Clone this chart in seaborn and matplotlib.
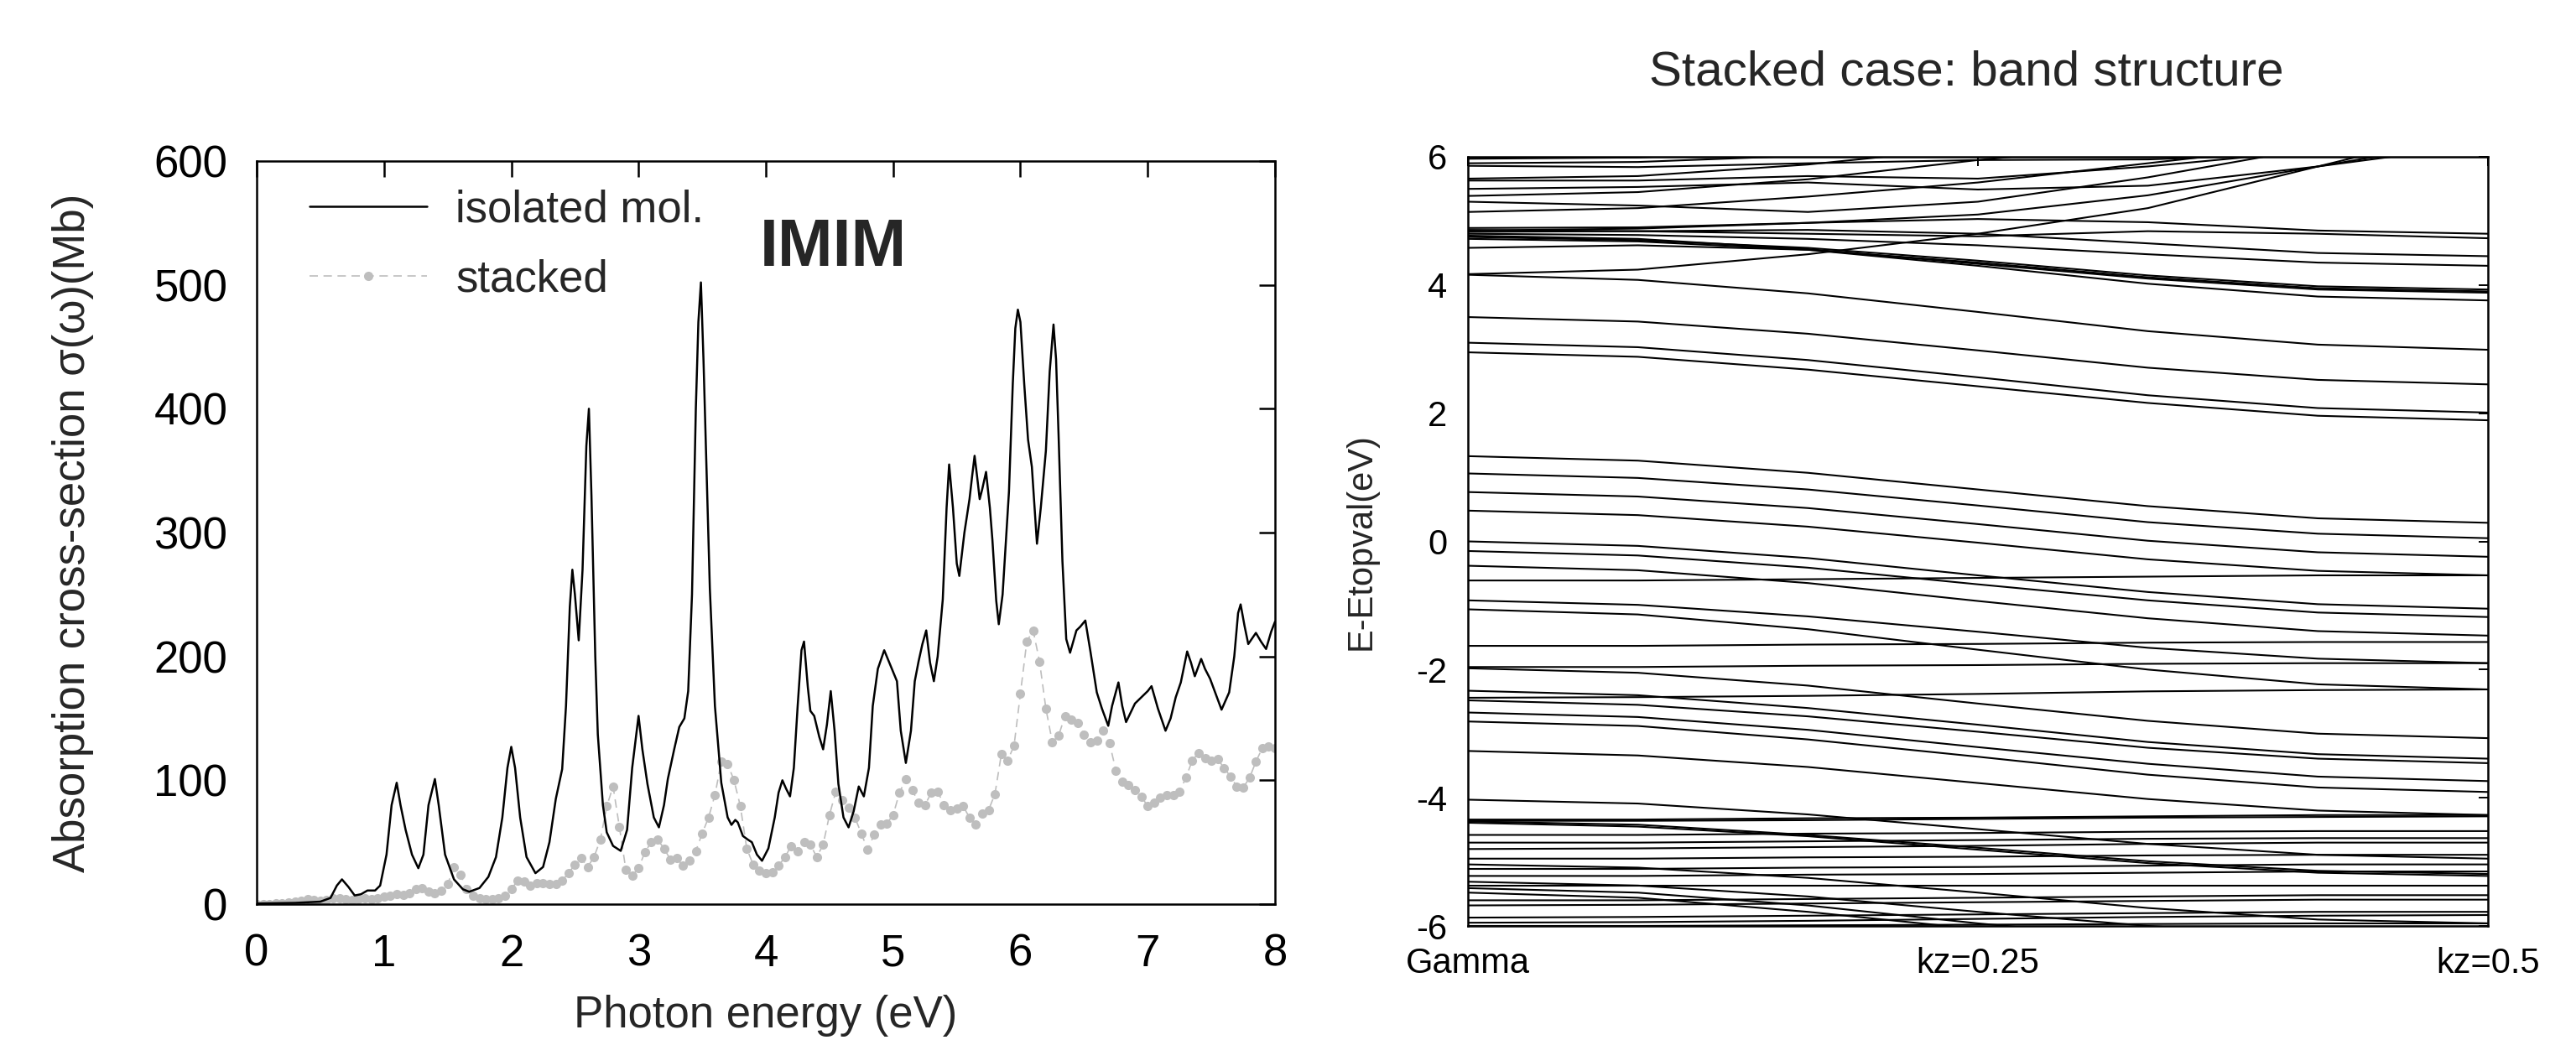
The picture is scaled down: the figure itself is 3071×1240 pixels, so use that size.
import numpy as np
import pandas as pd
import matplotlib
matplotlib.use("Agg")
import matplotlib.pyplot as plt
import seaborn as sns

sns.set_style("white")
plt.rcParams["font.family"] = ["Liberation Sans", "DejaVu Sans"]
plt.rcParams["axes.unicode_minus"] = False

# ---------------- Left panel data: absorption cross-section ----------------
iso_energy = [0.00, 0.30, 0.50, 0.58, 0.63, 0.67, 0.72, 0.77, 0.82, 0.87, 0.93, 0.97,
              1.02, 1.06, 1.10, 1.13, 1.17, 1.22, 1.27, 1.31, 1.35, 1.40, 1.43, 1.48,
              1.55, 1.62, 1.67, 1.75, 1.82, 1.88, 1.93, 1.97, 2.00, 2.03, 2.07, 2.12,
              2.19, 2.25, 2.30, 2.35, 2.40, 2.43, 2.46, 2.48, 2.50, 2.53, 2.56, 2.59,
              2.61, 2.63, 2.66, 2.68, 2.72, 2.75, 2.80, 2.86, 2.91, 2.95, 3.00, 3.03,
              3.07, 3.12, 3.16, 3.20, 3.23, 3.28, 3.32, 3.36, 3.39, 3.42, 3.45, 3.47,
              3.49, 3.51, 3.54, 3.56, 3.60, 3.65, 3.70, 3.73, 3.76, 3.78, 3.82, 3.86,
              3.89, 3.93, 3.97, 4.02, 4.07, 4.10, 4.13, 4.16, 4.19, 4.22, 4.25, 4.28,
              4.30, 4.33, 4.35, 4.38, 4.42, 4.45, 4.48, 4.51, 4.54, 4.57, 4.61, 4.65,
              4.69, 4.73, 4.77, 4.81, 4.84, 4.88, 4.93, 4.97, 5.01, 5.03, 5.06, 5.10,
              5.14, 5.17, 5.20, 5.23, 5.26, 5.29, 5.32, 5.35, 5.39, 5.42, 5.44, 5.47,
              5.50, 5.52, 5.56, 5.60, 5.62, 5.64, 5.66, 5.68, 5.70, 5.73, 5.76, 5.78,
              5.81, 5.83, 5.86, 5.91, 5.94, 5.96, 5.98, 6.00, 6.03, 6.06, 6.09, 6.13,
              6.16, 6.20, 6.23, 6.26, 6.28, 6.30, 6.33, 6.36, 6.39, 6.44, 6.47, 6.51,
              6.55, 6.60, 6.64, 6.69, 6.72, 6.77, 6.80, 6.83, 6.90, 6.97, 7.00, 7.03,
              7.08, 7.14, 7.18, 7.22, 7.26, 7.31, 7.34, 7.37, 7.42, 7.45, 7.49, 7.54,
              7.58, 7.64, 7.68, 7.71, 7.73, 7.76, 7.79, 7.85, 7.89, 7.93, 7.97, 8.00]
iso_sigma = [0.5, 1, 2, 5, 15, 20, 14, 7, 8, 11, 11, 15,
             40, 80, 98, 80, 60, 40, 29, 40, 80, 101, 80, 40,
             20, 12, 10, 13, 22, 38, 70, 110, 127, 110, 70, 38,
             25, 30, 50, 85, 109, 160, 240, 270, 250, 213, 270, 370,
             400, 330, 200, 137, 80, 58, 47, 43, 60, 110, 152, 125,
             97, 70, 62, 80, 101, 125, 143, 150, 172, 250, 400, 470,
             502, 440, 330, 255, 160, 98, 70, 64, 68, 66, 55, 52,
             50, 40, 35, 45, 70, 90, 100, 93, 87, 110, 160, 205,
             212, 175, 156, 152, 135, 125, 145, 172, 140, 97, 70, 62,
             75, 95, 87, 110, 160, 190, 205, 195, 185, 180, 140, 114,
             140, 180, 196, 210, 221, 195, 180, 200, 246, 320, 355, 320,
             275, 265, 300, 327, 345, 362, 345, 327, 335, 349, 320, 294,
             245, 226, 250, 333, 420, 465, 480, 470, 420, 375, 353, 291,
             320, 366, 430, 468, 440, 378, 277, 214, 203, 221, 224, 229,
             204, 171, 158, 144, 160, 179, 160, 147, 162, 169, 172, 176,
             158, 140, 150, 167, 179, 204, 195, 184, 198, 190, 182, 168,
             157, 171, 200, 235, 242, 225, 210, 219, 212, 206, 220, 228]

stk_energy = np.round(np.arange(161) * 0.05, 2)
stk_sigma = [0, 0, 0, 0.5, 1, 1.5, 2, 3, 4, 3.5,
             3, 3.5, 4.5, 5, 4, 3.5, 4, 4.5, 4, 5,
             6, 7, 8, 7.5, 9, 12, 13, 10, 9, 11,
             16, 30, 24, 12, 7, 5, 4, 4, 5, 7,
             12, 19, 18, 15, 17, 17, 16, 16, 19, 25,
             32, 37, 30, 38, 52, 79, 95, 62, 28, 23,
             29, 42, 50, 52, 45, 36, 37, 31, 35, 43,
             57, 70, 88, 115, 113, 100, 79, 45, 32, 27,
             25, 26, 31, 38, 47, 43, 50, 48, 38, 48,
             72, 91, 84, 78, 70, 57, 44, 56, 64, 65,
             72, 90, 101, 92, 82, 80, 90, 91, 80, 76,
             77, 79, 70, 64, 73, 76, 89, 121, 116, 128,
             170, 212, 221, 196, 158, 131, 136, 152, 149, 146,
             137, 131, 132, 140, 130, 108, 99, 96, 92, 87,
             79, 82, 86, 88, 88, 91, 102, 116, 122, 118,
             116, 117, 110, 103, 95, 94, 102, 115, 126, 127,
             126]

# ---------------- Right panel data: band structure ----------------
band_k = [0.0, 1/12, 1/6, 0.25, 1/3, 5/12, 0.5]
kpath_ticks = [0.0, 0.25, 0.5]
kpath_labels = ["Gamma", "kz=0.25", "kz=0.5"]

bands_upper = [
    [5.97, 5.99, 6.10, 6.30, 6.40, 6.40, 6.40],
    [5.90, 5.92, 6.02, 6.20, 6.30, 6.30, 6.30],
    [5.86, 5.84, 5.90, 5.95, 5.96, 6.05, 6.20],
    [5.66, 5.70, 5.88, 6.15, 6.40, 6.50, 6.50],
    [5.63, 5.63, 5.70, 5.66, 5.85, 6.10, 6.30],
    [5.50, 5.53, 5.60, 5.49, 5.55, 5.85, 6.20],
    [5.39, 5.45, 5.65, 5.95, 6.20, 6.30, 6.30],
    [5.30, 5.24, 5.14, 5.30, 5.68, 6.15, 6.50],
    [5.14, 5.20, 5.38, 5.60, 5.90, 6.20, 6.50],
    [4.89, 4.90, 4.97, 5.03, 4.98, 4.85, 4.80],
    [4.86, 4.84, 4.80, 4.76, 4.84, 4.80, 4.73],
    [4.83, 4.84, 4.86, 4.80, 4.65, 4.50, 4.45],
    [4.80, 4.78, 4.72, 4.62, 4.48, 4.35, 4.30],
    [4.75, 4.70, 4.58, 4.38, 4.15, 3.98, 3.93],
    [4.72, 4.68, 4.55, 4.35, 4.12, 3.95, 3.90],
    [4.77, 4.72, 4.56, 4.33, 4.10, 3.93, 3.88],
    [4.58, 4.62, 4.55, 4.30, 4.02, 3.82, 3.76],
    [4.17, 4.24, 4.48, 4.80, 5.20, 5.85, 6.50],
    [4.85, 4.88, 4.97, 5.10, 5.40, 5.85, 6.30],
]
bands_conduction = [
    [4.16, 4.08, 3.87, 3.58, 3.28, 3.07, 2.99],
    [3.50, 3.43, 3.24, 2.98, 2.71, 2.52, 2.45],
    [3.10, 3.03, 2.83, 2.56, 2.28, 2.08, 2.01],
    [2.95, 2.88, 2.68, 2.42, 2.16, 1.96, 1.89],
]
bands_valence = [
    [1.33, 1.26, 1.07, 0.81, 0.55, 0.36, 0.29],
    [1.06, 0.99, 0.81, 0.56, 0.30, 0.12, 0.05],
    [0.77, 0.70, 0.52, 0.27, 0.01, -0.17, -0.24],
    [0.48, 0.41, 0.23, -0.02, -0.28, -0.46, -0.53],
    [0.00, -0.07, -0.26, -0.53, -0.79, -0.98, -1.05],
    [-0.15, -0.22, -0.41, -0.67, -0.92, -1.11, -1.18],
    [-0.38, -0.45, -0.65, -0.93, -1.20, -1.40, -1.47],
    [-0.61, -0.61, -0.59, -0.57, -0.55, -0.53, -0.53],
    [-0.92, -0.99, -1.17, -1.41, -1.66, -1.83, -1.90],
    [-1.06, -1.14, -1.37, -1.69, -2.00, -2.23, -2.31],
    [-1.63, -1.63, -1.61, -1.60, -1.58, -1.57, -1.57],
    [-1.96, -1.96, -1.94, -1.93, -1.91, -1.90, -1.90],
    [-1.98, -2.05, -2.25, -2.53, -2.80, -3.00, -3.07],
    [-2.44, -2.43, -2.41, -2.38, -2.34, -2.32, -2.31],
    [-2.33, -2.40, -2.60, -2.86, -3.13, -3.32, -3.39],
    [-2.48, -2.55, -2.73, -2.97, -3.22, -3.39, -3.46],
    [-2.67, -2.74, -2.94, -3.21, -3.47, -3.67, -3.74],
    [-2.81, -2.88, -3.09, -3.36, -3.64, -3.84, -3.91],
    [-3.27, -3.34, -3.52, -3.77, -4.02, -4.20, -4.27],
]
bands_deep = [
    [-4.03, -4.09, -4.26, -4.49, -4.72, -4.89, -4.95],
    [-4.34, -4.34, -4.32, -4.31, -4.29, -4.27, -4.27],
    [-4.36, -4.36, -4.35, -4.33, -4.31, -4.30, -4.29],
    [-4.37, -4.42, -4.58, -4.78, -4.99, -5.14, -5.19],
    [-4.39, -4.45, -4.60, -4.81, -5.02, -5.17, -5.22],
    [-4.58, -4.58, -4.56, -4.55, -4.53, -4.52, -4.52],
    [-4.70, -4.70, -4.68, -4.66, -4.64, -4.63, -4.63],
    [-4.80, -4.79, -4.77, -4.75, -4.72, -4.70, -4.70],
    [-4.95, -4.95, -4.93, -4.92, -4.90, -4.89, -4.89],
    [-5.11, -5.11, -5.09, -5.08, -5.06, -5.04, -5.04],
    [-5.22, -5.22, -5.20, -5.19, -5.17, -5.15, -5.15],
    [-5.37, -5.37, -5.37, -5.37, -5.37, -5.37, -5.37],
    [-5.60, -5.60, -5.58, -5.56, -5.54, -5.52, -5.52],
    [-5.68, -5.67, -5.65, -5.63, -5.61, -5.59, -5.59],
    [-5.87, -5.86, -5.84, -5.82, -5.80, -5.78, -5.78],
    [-5.95, -5.94, -5.92, -5.89, -5.86, -5.84, -5.83],
    [-6.00, -6.00, -5.99, -5.98, -5.97, -5.96, -5.96],
    [-5.04, -5.09, -5.25, -5.48, -5.72, -5.90, -5.96],
    [-5.31, -5.37, -5.54, -5.78, -6.00, -6.15, -6.20],
    [-5.41, -5.48, -5.68, -5.96, -6.20, -6.30, -6.30],
    [-5.48, -5.56, -5.78, -6.05, -6.30, -6.40, -6.40],
]

all_bands = bands_upper + bands_conduction + bands_valence + bands_deep
rows = []
for b, vals in enumerate(all_bands):
    for k, e in zip(band_k, vals):
        rows.append({"band": b, "k": k, "E": e})
band_df = pd.DataFrame(rows)

# ---------------- Figure ----------------
W, H = 3071, 1240
fig = plt.figure(figsize=(W / 100, H / 100), dpi=100)

ax1 = fig.add_axes([306 / W, 1 - 1078 / H, (1520 - 306) / W, (1078 - 192) / H])
ax2 = fig.add_axes([1750 / W, 1 - 1104 / H, (2966 - 1750) / W, (1104 - 187) / H])

gray = "#bebebe"
sns.lineplot(x=stk_energy, y=stk_sigma, ax=ax1, color=gray, lw=1.2,
             linestyle=(0, (6, 4)), marker="o", markersize=8,
             markeredgewidth=0, markerfacecolor=gray, label="stacked", zorder=2)
sns.lineplot(x=iso_energy, y=iso_sigma, ax=ax1, color="black", lw=1.8,
             sort=False, label="isolated mol.", zorder=3)

FS = 38
ax1.set_xlim(0, 8)
ax1.set_ylim(0, 600)
ax1.set_xticks(range(0, 9))
ax1.set_yticks(range(0, 601, 100))
ax1.tick_params(direction="in", length=14, width=1.8, top=True, right=True,
                labelsize=FS, pad=25, colors="black")
for s in ax1.spines.values():
    s.set_linewidth(1.8)
    s.set_color("black")
ax1.set_xlabel("Photon energy (eV)", fontsize=FS)
ax1.set_ylabel("Absorption cross-section σ(ω)(Mb)", fontsize=FS)
ax1.xaxis.set_label_coords(0.5, -0.122)
ax1.yaxis.set_label_coords(-0.16, 0.5)

h, l = ax1.get_legend_handles_labels()
order = [l.index("isolated mol."), l.index("stacked")]
ax1.legend([h[i] for i in order], [l[i] for i in order],
           loc="upper left", bbox_to_anchor=(0.052, 0.962), frameon=False,
           fontsize=FS, handlelength=2.65, handletextpad=0.65, labelspacing=0.62,
           borderpad=0, borderaxespad=0)

ax1.text(0.566, 0.8826, "IMIM", transform=ax1.transAxes, fontsize=57,
         fontweight="bold", ha="center", va="center")

sns.lineplot(data=band_df, x="k", y="E", units="band", estimator=None,
             color="black", lw=1.5, ax=ax2, legend=False)
ax2.set_xlim(0, 0.5)
ax2.set_ylim(-6, 6)
ax2.set_xticks(kpath_ticks)
ax2.set_xticklabels(kpath_labels)
ax2.set_yticks(range(-6, 7, 2))
ax2.tick_params(direction="in", length=8, width=1.4, top=True, right=True,
                labelsize=30, pad=18, colors="black")
for s in ax2.spines.values():
    s.set_linewidth(1.8)
    s.set_color("black")
ax2.set_xlabel("")
ax2.set_ylabel("E-Etopval(eV)", fontsize=30)
ax2.yaxis.set_label_coords(-0.088, 0.5)

fig.text(2344 / W, 1 - 86 / H, "Stacked case: band structure", fontsize=42,
         ha="center", va="center")

fig.savefig("out.png", dpi=100)
